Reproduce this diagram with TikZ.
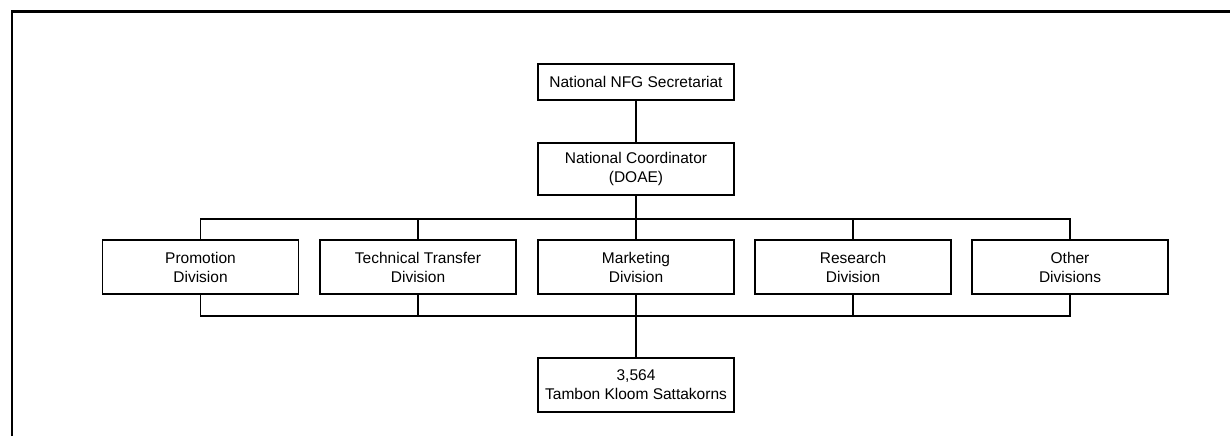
\documentclass[tikz,border=0pt]{standalone}
\usepackage{fontspec}
\setmainfont{Liberation Sans}
\begin{document}
\begin{tikzpicture}[x=1pt,y=-1pt,
  orgbox/.style={draw, line width=1.3pt, minimum width=196pt, minimum height=#1,
    align=center, inner sep=0pt, font=\fontsize{15.5}{19}\selectfont},
  orgbox/.default=54pt,
  link/.style={line width=1.3pt}]
  \useasboundingbox (0,0) rectangle (1230,436);
  % outer frame (top and left edges)
  \draw[line width=2.4pt] (12,436) -- (12,11.5) -- (1230,11.5);

  \node[orgbox=36pt] (sec) at (636,82) {National NFG Secretariat};
  \node[orgbox=52pt] (coord) at (636,169) {National Coordinator\\(DOAE)};

  \node[orgbox] (promo) at (200.5,267) {Promotion\\Division};
  \node[orgbox] (tech)  at (418,267) {Technical Transfer\\Division};
  \node[orgbox] (mkt)   at (636,267) {Marketing\\Division};
  \node[orgbox] (res)   at (853,267) {Research\\Division};
  \node[orgbox] (other) at (1070,267) {Other\\Divisions};

  \node[orgbox] (tambon) at (636,385) {3,564\\Tambon Kloom Sattakorns};

  \coordinate (topbus) at (636,219);
  \coordinate (botbus) at (636,316);

  \draw[link] (sec) -- (coord);
  \draw[link] (coord) -- (topbus);
  \draw[link] (promo.north) |- (topbus) -| (other.north);
  \foreach \n in {tech,mkt,res} \draw[link] (\n.north) -- (\n.north |- topbus);
  \draw[link] (promo.south) |- (botbus) -| (other.south);
  \foreach \n in {tech,mkt,res} \draw[link] (\n.south) -- (\n.south |- botbus);
  \draw[link] (botbus) -- (tambon);
\end{tikzpicture}
\end{document}
